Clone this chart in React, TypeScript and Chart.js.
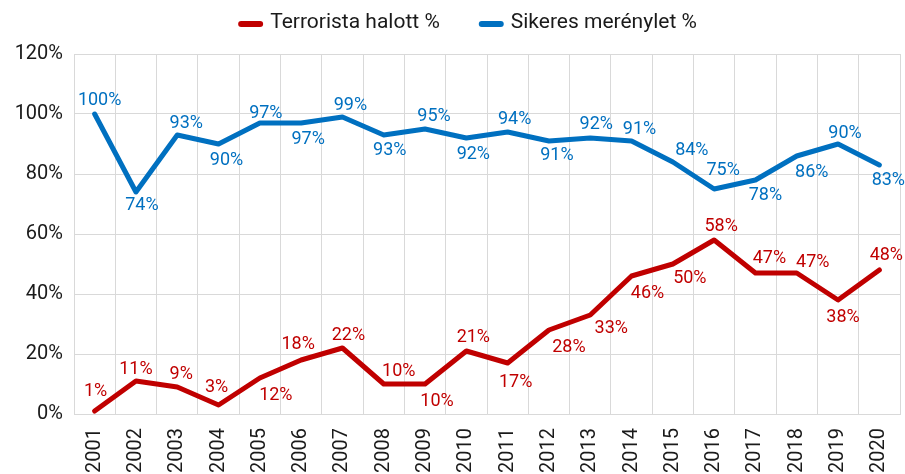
import React, { useEffect, useRef } from "react";
import { Chart, registerables } from "chart.js";

Chart.register(...registerables);

const years = ["2001","2002","2003","2004","2005","2006","2007","2008","2009","2010","2011","2012","2013","2014","2015","2016","2017","2018","2019","2020"];
const terroristDead = [1, 11, 9, 3, 12, 18, 22, 10, 10, 21, 17, 28, 33, 46, 50, 58, 47, 47, 38, 48];
const successfulAttack = [100, 74, 93, 90, 97, 97, 99, 93, 95, 92, 94, 91, 92, 91, 84, 75, 78, 86, 90, 83];
const yTicks = [0, 20, 40, 60, 80, 100, 120];
const seriesNames = ["Terrorista halott %", "Sikeres merénylet %"];

// label placement (offset from point, px): [dx, dy]
const redLabelOffsets = [[1,-21],[0,-13],[4,-14],[-2,-19],[16,16],[-3,-17],[6,-14],[15,-14],[12,16],[7,-15],[8,18],[20,16],[21,12],[16,16],[17,13],[7,-15],[14,-16],[16,-12],[5,16],[7,-16]];
const blueLabelOffsets = [[5,-15],[6,12],[9,-13],[8,15],[6,-11],[7,15],[8,-13],[6,14],[9,-14],[7,15],[7,-14],[8,13],[6,-15],[8,-13],[19,-13],[9,-20],[10,14],[15,15],[7,-12],[9,14]];

const RED = "#C00000";
const BLUE = "#0070C0";
const FONT = "Roboto, 'Noto Sans', sans-serif";

export default function App() {
  const ref = useRef<HTMLCanvasElement>(null);
  useEffect(() => {
    document.body.style.margin = "0";
    const canvas = ref.current!;
    const labelsPlugin = {
      id: "pctLabels",
      afterDatasetsDraw(chart: any) {
        const ctx = chart.ctx;
        ctx.save();
        ctx.font = `18px ${FONT}`;
        ctx.textAlign = "center";
        ctx.textBaseline = "alphabetic";
        const offs = [redLabelOffsets, blueLabelOffsets];
        chart.data.datasets.forEach((ds: any, di: number) => {
          const meta = chart.getDatasetMeta(di);
          ctx.fillStyle = ds.borderColor;
          meta.data.forEach((pt: any, i: number) => {
            const [dx, dy] = offs[di][i];
            ctx.fillText(`${Math.round(ds.data[i])}%`, pt.x + dx, pt.y + dy + 6.4);
          });
        });
        ctx.restore();
      },
    };
    const legendPlugin = {
      id: "customLegend",
      afterDraw(chart: any) {
        const ctx = chart.ctx;
        ctx.save();
        ctx.font = `21px ${FONT}`;
        ctx.textBaseline = "middle";
        ctx.textAlign = "left";
        const lineW = 25, gap = 7, spacing = 39;
        const items = chart.data.datasets.map((ds: any) => ({
          text: ds.label,
          color: ds.borderColor,
          w: lineW + gap + ctx.measureText(ds.label).width,
        }));
        const total = items.reduce((s: number, it: any) => s + it.w, 0) + spacing * (items.length - 1);
        let x = 467.5 - total / 2;
        const y = 23;
        items.forEach((it: any) => {
          ctx.strokeStyle = it.color;
          ctx.lineWidth = 6;
          ctx.lineCap = "round";
          ctx.beginPath();
          ctx.moveTo(x + 3, y + 1);
          ctx.lineTo(x + lineW - 3, y + 1);
          ctx.stroke();
          ctx.fillStyle = "#1a1a1a";
          ctx.fillText(it.text, x + lineW + gap, y);
          x += it.w + spacing;
        });
        ctx.restore();
      },
    };
    const chart = new Chart(canvas, {
      type: "line",
      data: {
        labels: years,
        datasets: [
          {
            label: seriesNames[0],
            data: terroristDead,
            borderColor: RED,
            backgroundColor: RED,
            borderWidth: 5,
            pointRadius: 0,
            borderJoinStyle: "round",
            borderCapStyle: "round",
            tension: 0,
          },
          {
            label: seriesNames[1],
            data: successfulAttack,
            borderColor: BLUE,
            backgroundColor: BLUE,
            borderWidth: 5,
            pointRadius: 0,
            borderJoinStyle: "round",
            borderCapStyle: "round",
            tension: 0,
          },
        ],
      },
      options: {
        animation: false,
        responsive: false,
        devicePixelRatio: 1,
        layout: { padding: { top: 54, right: 5, left: 0, bottom: 0 } },
        plugins: { legend: { display: false }, tooltip: { enabled: false } },
        scales: {
          x: {
            offset: true,
            grid: { color: "#D9D9D9", lineWidth: 1, offset: true, drawTicks: false },
            border: { color: "#D9D9D9" },
            ticks: {
              minRotation: 90,
              maxRotation: 90,
              padding: 14,
              color: "#1a1a1a",
              font: { family: FONT, size: 20 },
              autoSkip: false,
            },
            afterFit(scale: any) {
              scale.height = 60;
              scale.paddingLeft = 0;
              scale.paddingRight = 0;
            },
          },
          y: {
            min: 0,
            max: 120,
            afterBuildTicks(scale: any) { scale.ticks = yTicks.map((v) => ({ value: v })); },
            grid: { color: "#D9D9D9", lineWidth: 1, drawTicks: false },
            border: { color: "#D9D9D9" },
            ticks: {
              padding: 11,
              color: "#1a1a1a",
              font: { family: FONT, size: 20 },
              callback: (v: any) => `${v}%`,
            },
            afterFit(scale: any) {
              scale.width = 74;
            },
          },
        },
      },
      plugins: [labelsPlugin, legendPlugin],
    });
    return () => chart.destroy();
  }, []);
  return (
    <div style={{ width: 905, height: 474 }}>
      <canvas ref={ref} width={905} height={474} style={{ display: "block" }} />
    </div>
  );
}
